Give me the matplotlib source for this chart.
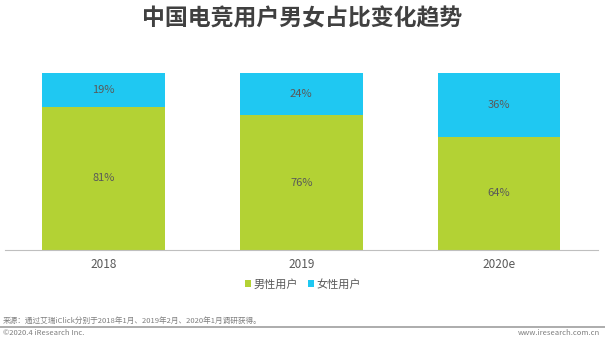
import matplotlib
matplotlib.use("Agg")
import matplotlib.pyplot as plt
import numpy as np

plt.rcParams['font.family'] = ['Noto Sans CJK SC', 'DejaVu Sans']

years = ["2018", "2019", "2020e"]
male = [81, 76, 64]
female = [19, 24, 36]
labels = ["男性用户", "女性用户"]

green = "#B3D234"
blue = "#1FC8F2"
txt = "#595959"

fig = plt.figure(figsize=(6.05, 3.42), dpi=100)
ax = fig.add_axes([4.5 / 605, 1 - 250 / 342, (598 - 4.5) / 605, (250 - 73) / 342])

x = np.arange(len(years))
w = 0.62
m = np.array(male)
f = np.array(female)
b1 = ax.bar(x, m, w, color=green, label=labels[0])
b2 = ax.bar(x, f, w, bottom=m, color=blue, label=labels[1])

for i in range(len(years)):
    ax.text(x[i], m[i] / 2, f"{male[i]}%", ha="center", va="center", fontsize=8, color=txt)
    ax.text(x[i], m[i] + f[i] / 2, f"{female[i]}%", ha="center", va="center", fontsize=8, color=txt)

ax.set_xlim(-0.5, 2.5)
ax.set_ylim(0, 100)
ax.set_yticks([])
ax.set_xticks(x)
ax.set_xticklabels(years, fontsize=8.5, color=txt)
ax.tick_params(axis="x", length=0, pad=6)
for s in ["top", "right", "left"]:
    ax.spines[s].set_visible(False)
ax.spines["bottom"].set_color("#BFBFBF")

fig.text(0.5, 1 - 19 / 342, "中国电竞用户男女占比变化趋势", ha="center", va="center",
         fontsize=16.5, fontweight="bold", color="#404040")

fig.legend(handles=[b1, b2], labels=labels, loc="center", bbox_to_anchor=(303 / 605, 1 - 284 / 342),
           ncol=2, frameon=False, fontsize=8, handlelength=0.55, handleheight=0.55,
           handletextpad=0.25, columnspacing=0.9, labelcolor=txt)

fig.text(3 / 605, 1 - 321 / 342, "来源：通过艾瑞iClick分别于2018年1月、2019年2月、2020年1月调研获得。",
         ha="left", va="center", fontsize=5.5, color="#7F7F7F")
fig.add_artist(plt.Line2D([0, 1], [1 - 326.5 / 342, 1 - 326.5 / 342], color="#A6A6A6", lw=1.3))
fig.text(3 / 605, 1 - 333 / 342, "©2020.4 iResearch Inc.", ha="left", va="center",
         fontsize=5.5, color="#7F7F7F")
fig.text(600 / 605, 1 - 333 / 342, "www.iresearch.com.cn", ha="right", va="center",
         fontsize=5.5, color="#7F7F7F")

fig.savefig("out.png", dpi=100)
